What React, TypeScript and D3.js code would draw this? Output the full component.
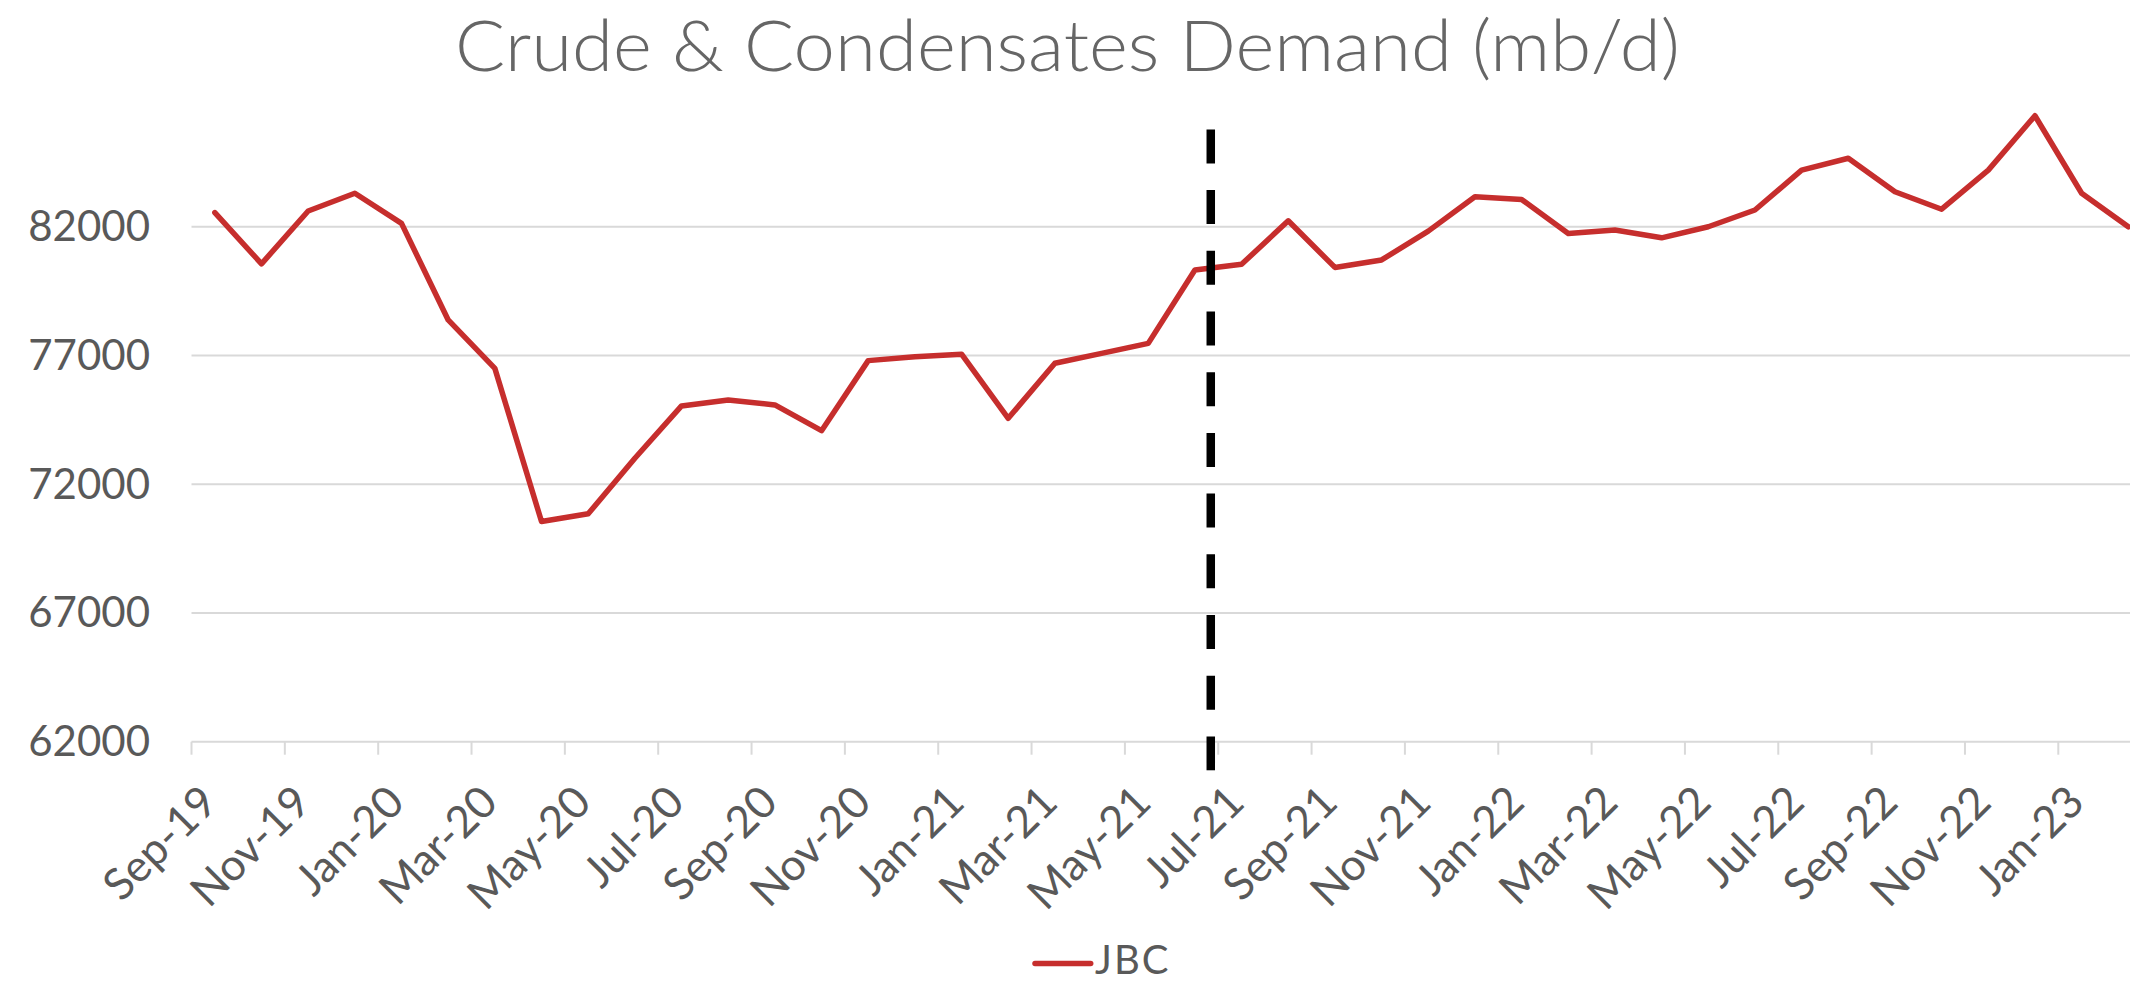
import React from "react";
import * as d3 from "d3";

const months = [
  "Sep-19","Oct-19","Nov-19","Dec-19","Jan-20","Feb-20","Mar-20","Apr-20","May-20","Jun-20",
  "Jul-20","Aug-20","Sep-20","Oct-20","Nov-20","Dec-20","Jan-21","Feb-21","Mar-21","Apr-21",
  "May-21","Jun-21","Jul-21","Aug-21","Sep-21","Oct-21","Nov-21","Dec-21","Jan-22","Feb-22",
  "Mar-22","Apr-22","May-22","Jun-22","Jul-22","Aug-22","Sep-22","Oct-22","Nov-22","Dec-22",
  "Jan-23","Feb-23",
];

const jbc = [
  82550, 80560, 82610, 83300, 82130, 78380, 76500, 70550, 70850, 73010,
  75040, 75270, 75080, 74080, 76800, 76950, 77050, 74560, 76700, 77080,
  77470, 80320, 80540, 82230, 80420, 80710, 81830, 83165, 83060, 81740,
  81870, 81570, 82000, 82650, 84200, 84660, 83360, 82680, 84200, 86310,
  83300, 82000,
];

const yTicks = [62000, 67000, 72000, 77000, 82000];
const yDomain = [62000, 87000];

// vertical dashed marker between Jun-21 and Jul-21 (category position, value range)
const markerCategoryPos = 21.34;
const markerValueRange = [60890, 85780];

const title = "Crude & Condensates Demand (mb/d)";
const seriesName = "JBC";

const W = 2130;
const H = 983;
const FONT = "Lato, 'Open Sans', sans-serif";
const RED = "#C62E2D";
const GRID = "#D9D9D9";
const LABEL = "#595959";

export default function App() {
  const left = 191.5;
  const step = 46.67;
  const right = left + step * months.length;
  const top = 98;
  const bottom = 741.7;

  const x = d3.scaleBand<string>().domain(months).range([left, right]).padding(0);
  const cx = (m: string) => (x(m) as number) + x.bandwidth() / 2;
  const xPos = d3.scaleLinear().domain([0, months.length]).range([left, right]);
  const y = d3.scaleLinear().domain(yDomain).range([bottom, top]);

  const line = d3
    .line<number>()
    .x((_, i) => cx(months[i]))
    .y((d) => y(d));

  const boundaryTicks = d3.range(0, months.length + 1, 2).map((i) => xPos(i));
  const markerX = xPos(markerCategoryPos + 0.5);

  return (
    <svg
      width={W}
      height={H}
      style={{ position: "absolute", left: 0, top: 0, display: "block", background: "#fff" }}
    >
      <text
        x={455}
        y={70.5}
        textAnchor="start"
        textLength={1225}
        lengthAdjust="spacingAndGlyphs"
        fontFamily={FONT}
        fontWeight={300}
        fontSize={71}
        fill="#666666"
      >
        {title}
      </text>

      {yTicks.map((t) => (
        <g key={t}>
          <line x1={left} x2={right} y1={y(t)} y2={y(t)} stroke={GRID} strokeWidth={2} />
          <text
            x={150}
            y={y(t) + 14.5}
            textAnchor="end"
            fontFamily={FONT}
            fontSize={42}
            fill={LABEL}
          >
            {t}
          </text>
        </g>
      ))}

      {boundaryTicks.map((bx, i) => (
        <line key={i} x1={bx} x2={bx} y1={bottom} y2={bottom + 13} stroke={GRID} strokeWidth={2} />
      ))}

      {months.map((m, i) =>
        i % 2 === 0 ? (
          <text
            key={m}
            transform={`translate(${cx(m) + 5},${bottom + 63}) rotate(-45)`}
            textAnchor="end"
            fontFamily={FONT}
            fontSize={44}
            fill={LABEL}
          >
            {m}
          </text>
        ) : null
      )}

      <path
        d={line(jbc) || ""}
        fill="none"
        stroke={RED}
        strokeWidth={5.5}
        strokeLinejoin="round"
        strokeLinecap="round"
      />

      <line
        x1={markerX}
        x2={markerX}
        y1={y(markerValueRange[1])}
        y2={y(markerValueRange[0])}
        stroke="#000"
        strokeWidth={8.5}
        strokeDasharray="34 26.7"
      />

      <line x1={1035} x2={1090.7} y1={963.5} y2={963.5} stroke={RED} strokeWidth={5.5} strokeLinecap="round" />
      <text x={1095} y={974} fontFamily={FONT} fontSize={40} letterSpacing={2} fill={LABEL}>
        {seriesName}
      </text>
    </svg>
  );
}
